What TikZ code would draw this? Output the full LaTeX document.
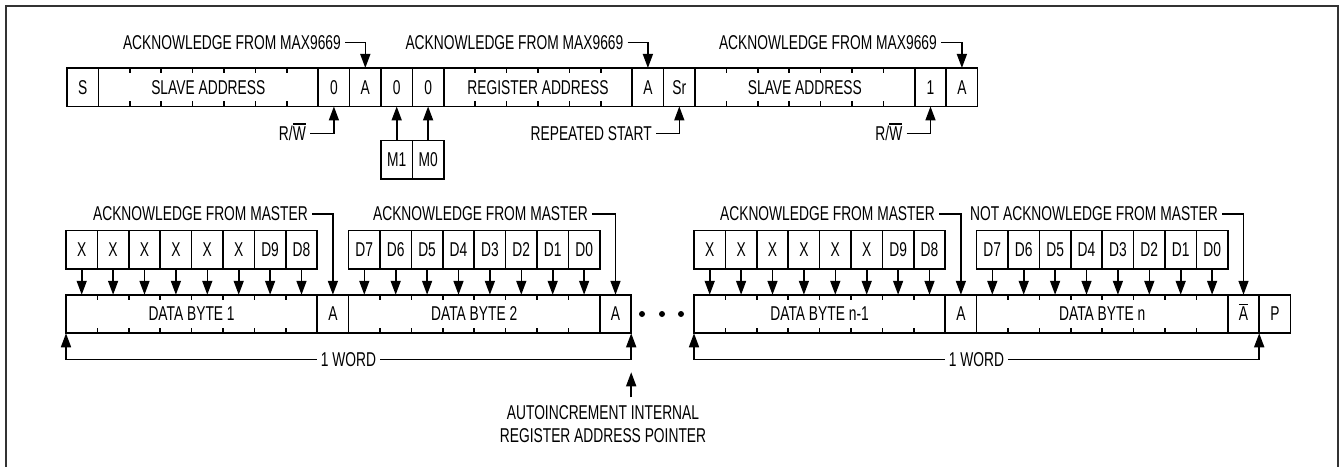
\documentclass[tikz,border=0pt]{standalone}
\usepackage{fontspec}
\setmainfont{Liberation Sans}[FakeStretch=0.69]
\usetikzlibrary{positioning,calc,arrows.meta}

\newcommand\barletter[1]{\vbox{\hrule height 1.3pt\kern 2pt\hbox{#1}}}

\begin{document}
\begin{tikzpicture}[x=1pt,y=-1pt,
    font=\fontsize{20}{23}\selectfont,
    cell/.style={draw, line width=1.6pt, minimum width=31.4pt, minimum height=38.5pt,
        inner sep=0pt, outer sep=0pt, text height=13.8pt, text depth=0pt},
    multicell/.style={cell, minimum width=#1*31.4pt},
    lbl/.style={inner sep=4pt, text height=13.8pt, text depth=0pt},
    arr/.style={line width=1.6pt, -{Triangle[length=14pt,width=10pt]}},
    tick/.style={line width=1.6pt},
    frame/.style={line width=2.2pt, black!80}]
    \useasboundingbox (0,0) rectangle (1341,466);
    \draw[frame] (6,470) -- (6,6) -- (1338,6) -- (1338,470);

    % write: address and register pointer
    \node[cell, anchor=west] (s) at (67,87.2) {S};
    \node[multicell=7, right=0pt of s] (sa1) {SLAVE ADDRESS};
    \node[cell, right=0pt of sa1] (rw0) {0};
    \node[cell, right=0pt of rw0] (ack1) {A};
    \node[cell, right=0pt of ack1] (m1bit) {0};
    \node[cell, right=0pt of m1bit] (m0bit) {0};
    \node[multicell=6, right=0pt of m0bit] (ra) {REGISTER ADDRESS};
    \node[cell, right=0pt of ra] (ack2) {A};
    \node[cell, right=0pt of ack2] (sr) {Sr};
    \node[multicell=7, right=0pt of sr] (sa2) {SLAVE ADDRESS};
    \node[cell, right=0pt of sa2] (rw1) {1};
    \node[cell, right=0pt of rw1] (ack3) {A};

    \node[cell, below=34pt of m1bit] (m1) {M1};
    \node[cell, right=0pt of m1] (m0) {M0};
    \draw[arr] (m1) -- (m1bit);
    \draw[arr] (m0) -- (m0bit);

    \node[lbl, anchor=east] (lmax1) at (345,42.5) {ACKNOWLEDGE FROM MAX9669};
    \node[lbl, anchor=east] (lmax2) at (627.5,42.5) {ACKNOWLEDGE FROM MAX9669};
    \node[lbl, anchor=east] (lmax3) at (941,42.5) {ACKNOWLEDGE FROM MAX9669};
    \draw[arr] (lmax1) -| (ack1);
    \draw[arr] (lmax2) -| (ack2);
    \draw[arr] (lmax3) -| (ack3);

    \node[lbl, anchor=east] (lrw1) at (310,133.5) {R/\barletter{W}};
    \node[lbl, anchor=east] (lsr) at (656,133.5) {REPEATED START};
    \node[lbl, anchor=east] (lrw2) at (906.5,133.5) {R/\barletter{W}};
    \draw[arr] (lrw1) -| (rw0);
    \draw[arr] (lsr) -| (sr);
    \draw[arr] (lrw2) -| (rw1);

    % read: data words
    \node[multicell=8, anchor=west] (db1) at (66,314) {DATA BYTE 1};
    \node[cell, right=0pt of db1] (ba1) {A};
    \node[multicell=8, right=0pt of ba1] (db2) {DATA BYTE 2};
    \node[cell, right=0pt of db2] (ba2) {A};
    \foreach \x [count=\k] in {642,662,681}
        \node[circle, fill, inner sep=0pt, minimum size=6pt] (dot\k) at (\x,314) {};
    \node[multicell=8, anchor=west] (dbna) at (694,314) {DATA BYTE n-1};
    \node[cell, right=0pt of dbna] (ba3) {A};
    \node[multicell=8, right=0pt of ba3] (dbnb) {DATA BYTE n};
    \node[cell, right=0pt of dbnb] (nack) {\barletter{A}};
    \node[cell, right=0pt of nack] (stop) {P};

    \foreach \n/\k in {sa1/7,ra/6,sa2/7,db1/8,db2/8,dbna/8,dbnb/8}
        \foreach \i in {1,...,\k} {
            \draw[tick] ($(\n.north west)!\i/\k!(\n.north east)$) -- ++(0,5);
            \draw[tick] ($(\n.south west)!\i/\k!(\n.south east)$) -- ++(0,-5);
        }

    \foreach \t [count=\i] in {X,X,X,X,X,X,D9,D8} {
        \path (db1.north west) ++({(\i-0.5)*31.4},-45) node[cell] (hia\i) {\t};
        \draw[arr] (hia\i) -- (hia\i |- db1.north);
    }
    \foreach \t [count=\i] in {D7,D6,D5,D4,D3,D2,D1,D0} {
        \path (db2.north west) ++({(\i-0.5)*31.4},-45) node[cell] (hib\i) {\t};
        \draw[arr] (hib\i) -- (hib\i |- db2.north);
    }
    \foreach \t [count=\i] in {X,X,X,X,X,X,D9,D8} {
        \path (dbna.north west) ++({(\i-0.5)*31.4},-45) node[cell] (hic\i) {\t};
        \draw[arr] (hic\i) -- (hic\i |- dbna.north);
    }
    \foreach \t [count=\i] in {D7,D6,D5,D4,D3,D2,D1,D0} {
        \path (dbnb.north west) ++({(\i-0.5)*31.4},-45) node[cell] (hid\i) {\t};
        \draw[arr] (hid\i) -- (hid\i |- dbnb.north);
    }

    \node[lbl, anchor=east] (lma1) at (312,214) {ACKNOWLEDGE FROM MASTER};
    \node[lbl, anchor=east] (lma2) at (592,214) {ACKNOWLEDGE FROM MASTER};
    \node[lbl, anchor=east] (lma3) at (939,214) {ACKNOWLEDGE FROM MASTER};
    \node[lbl, anchor=east] (lnma) at (1222,214) {NOT ACKNOWLEDGE FROM MASTER};
    \draw[arr] (lma1) -| (ba1);
    \draw[arr] (lma2) -| (ba2);
    \draw[arr] (lma3) -| (ba3);
    \draw[arr] (lnma) -| (nack);

    \node[lbl] (word1) at (348.5,359.5) {1 WORD};
    \node[lbl] (word2) at (976.5,359.5) {1 WORD};
    \draw[arr] (word1) -| (db1.south west);
    \draw[arr] (word1) -| (ba2.south east);
    \draw[arr] (word2) -| (dbna.south west);
    \draw[arr] (word2) -| (nack.south east);

    \node[align=center, inner sep=0pt] (autoinc) at (603,424.5)
        {AUTOINCREMENT INTERNAL\\REGISTER ADDRESS POINTER};
    \draw[arr] ([yshift=-64pt]ba2.south east) -- ([yshift=-39pt]ba2.south east);
\end{tikzpicture}
\end{document}
